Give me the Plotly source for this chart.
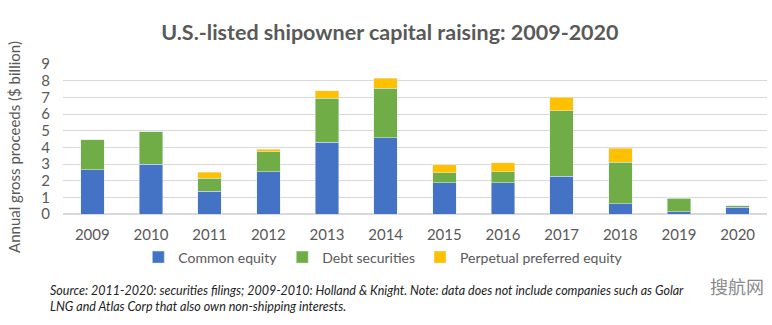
import plotly.graph_objects as go

years = ["2009", "2010", "2011", "2012", "2013", "2014", "2015", "2016", "2017", "2018", "2019", "2020"]
common_equity = [2.65, 3.0, 1.36, 2.54, 4.3, 4.58, 1.88, 1.88, 2.26, 0.62, 0.14, 0.4]
debt_securities = [1.8, 1.93, 0.8, 1.2, 2.66, 2.96, 0.6, 0.66, 3.94, 2.5, 0.82, 0.1]
perpetual_preferred = [0.0, 0.0, 0.36, 0.16, 0.44, 0.6, 0.48, 0.54, 0.8, 0.84, 0.02, 0.0]
y_ticks = [0, 1, 2, 3, 4, 5, 6, 7, 8, 9]

FONT = "Lato"
GRAY = "#595959"

fig = go.Figure()
fig.add_trace(go.Bar(x=years, y=common_equity, name="Common equity", marker_color="#4472C4"))
fig.add_trace(go.Bar(x=years, y=debt_securities, name="Debt securities", marker_color="#70AD47"))
fig.add_trace(go.Bar(x=years, y=perpetual_preferred, name="Perpetual preferred equity", marker_color="#FFC000"))

fig.update_layout(
    barmode="stack",
    bargap=0.6,
    width=772, height=325,
    margin=dict(l=63, r=5, t=64, b=111),
    paper_bgcolor="white", plot_bgcolor="white",
    font=dict(family=FONT, color=GRAY, size=14),
    title=dict(text="<b>U.S.-listed shipowner capital raising: 2009-2020</b>",
               x=0.505, xanchor="center", y=0.9, yanchor="middle",
               font=dict(size=21.5, color=GRAY, family=FONT)),
    showlegend=True,
    legend=dict(orientation="h", x=0.455, xanchor="center", y=-0.29, yanchor="middle",
                font=dict(size=14, color=GRAY), itemwidth=30, traceorder="normal"),
    xaxis=dict(showline=False, ticks="", ticklabelstandoff=10, tickfont=dict(size=15, color=GRAY)),
    yaxis=dict(range=[0, 9], tickvals=y_ticks, showgrid=True, gridcolor="#D9D9D9",
               zeroline=True, zerolinecolor="#D9D9D9", ticks="", ticklabelstandoff=12,
               tickfont=dict(size=15, color=GRAY)),
    annotations=[
        dict(text="Annual gross proceeds ($ billion)", textangle=-90,
             xref="paper", yref="paper", x=-0.0696, y=0.447, xanchor="center", yanchor="middle",
             showarrow=False, font=dict(size=15, color=GRAY, family=FONT)),
        dict(text="<i>Source: 2011-2020: securities filings; 2009-2010: Holland &amp; Knight. Note: data does not include companies such as Golar<br>LNG and Atlas Corp that also own non-shipping interests.</i>",
             xref="paper", yref="paper", x=-0.021, y=-0.445, xanchor="left", yanchor="top",
             align="left", showarrow=False, font=dict(size=12.5, color="#222222", family=FONT)),
        dict(text="搜航网", xref="paper", yref="paper", x=0.998, y=-0.48, xanchor="right", yanchor="middle",
             showarrow=False, font=dict(size=18, color="#8a8a8a", family="Noto Sans CJK SC")),
    ],
)

fig.write_html("out.html")
